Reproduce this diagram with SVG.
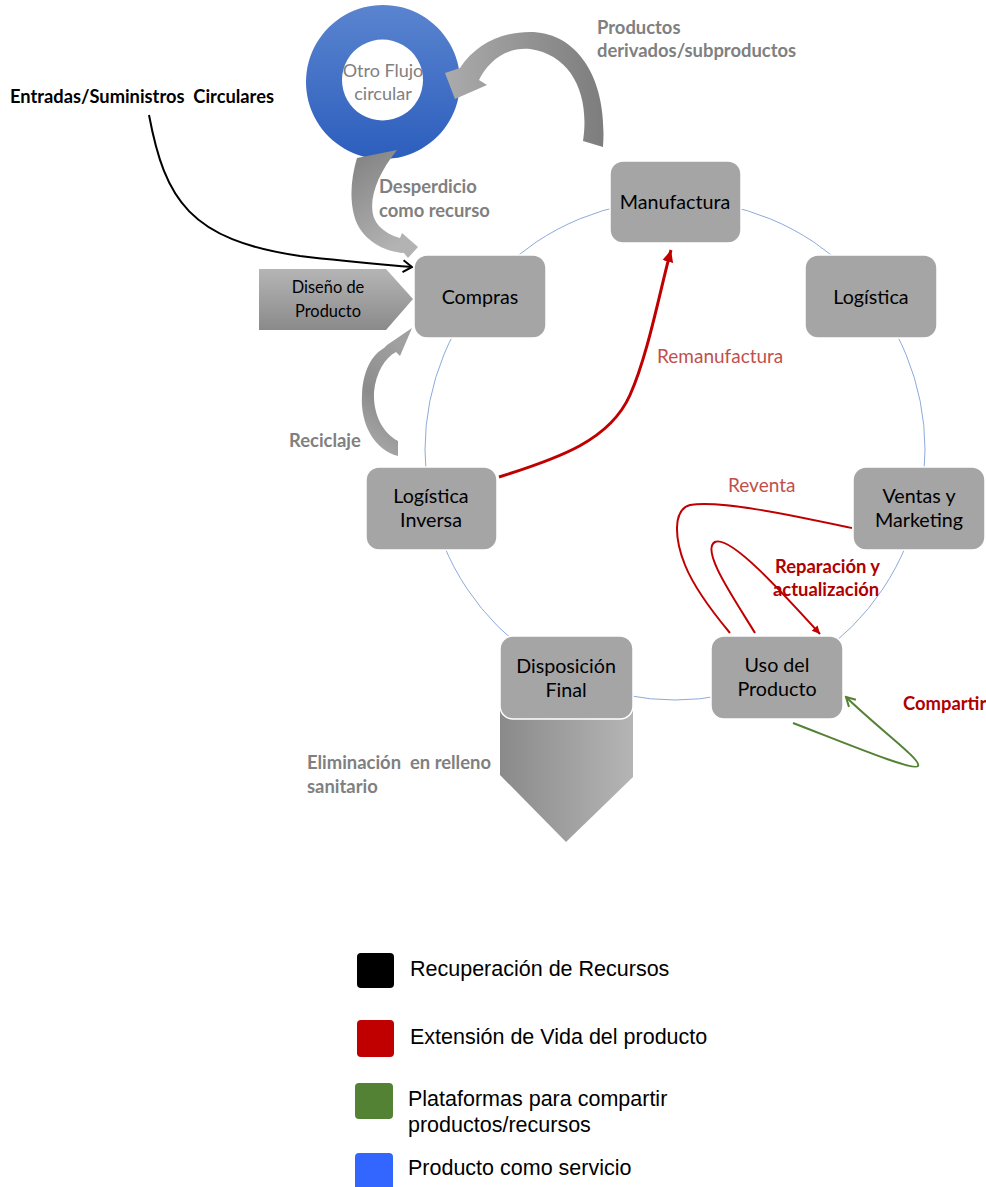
<svg xmlns="http://www.w3.org/2000/svg" width="986" height="1187" viewBox="0 0 986 1187">
<style>
.node{fill:#a5a5a5;stroke:#ffffff;stroke-width:1.5}
.nt{font-family:Lato,"Liberation Sans",sans-serif;font-size:19.7px;fill:#000;text-anchor:middle}
.gl{font-family:Lato,"Liberation Sans",sans-serif;font-size:18.4px;font-weight:bold;fill:#808080;white-space:pre}
.rl{font-family:Lato,"Liberation Sans",sans-serif;font-size:19px;fill:#c0504d}
.rb{font-family:Lato,"Liberation Sans",sans-serif;font-size:18.4px;font-weight:bold;fill:#b00000}
.lg{font-family:"Liberation Sans",Arial,sans-serif;font-size:21.5px;fill:#000}
.cyc{fill:none;stroke:#8eaadb;stroke-width:1}
</style>
<defs>
<linearGradient id="gDonut" x1="0" y1="0" x2="0" y2="1">
<stop offset="0" stop-color="#5a84cf"/><stop offset="1" stop-color="#2c5ebd"/>
</linearGradient>
<linearGradient id="gProd" x1="0" y1="0" x2="1" y2="0">
<stop offset="0" stop-color="#ababab"/><stop offset="1" stop-color="#7d7d7d"/>
</linearGradient>
<linearGradient id="gDesp" x1="0" y1="0" x2="0.4" y2="1">
<stop offset="0" stop-color="#808080"/><stop offset="1" stop-color="#b3b3b3"/>
</linearGradient>
<linearGradient id="gRec" x1="0" y1="1" x2="0.3" y2="0">
<stop offset="0" stop-color="#b0b0b0"/><stop offset="0.5" stop-color="#8c8c8c"/><stop offset="1" stop-color="#a0a0a0"/>
</linearGradient>
<linearGradient id="gDis" x1="0" y1="0" x2="0" y2="1">
<stop offset="0" stop-color="#b5b5b5"/><stop offset="1" stop-color="#8a8a8a"/>
</linearGradient>
<linearGradient id="gFun" x1="0" y1="0" x2="1" y2="0">
<stop offset="0" stop-color="#8a8a8a"/><stop offset="1" stop-color="#b5b5b5"/>
</linearGradient>
<marker id="mBlack" markerUnits="userSpaceOnUse" markerWidth="14" markerHeight="14" refX="11" refY="7" orient="auto">
<path d="M2,1 L11,7 L2,13" fill="none" stroke="#000" stroke-width="2"/>
</marker>
<marker id="mRed" markerUnits="userSpaceOnUse" markerWidth="14" markerHeight="14" refX="12" refY="7" orient="auto">
<path d="M0,1.5 L12,7 L0,12.5 Z" fill="#c00000"/>
</marker>
<marker id="mRedS" markerUnits="userSpaceOnUse" markerWidth="10" markerHeight="10" refX="8" refY="5" orient="auto">
<path d="M0,1 L8,5 L0,9 Z" fill="#c00000"/>
</marker>
<marker id="mGreen" markerUnits="userSpaceOnUse" markerWidth="12" markerHeight="12" refX="10" refY="6" orient="auto">
<path d="M1,1 L10,6 L1,11" fill="none" stroke="#548235" stroke-width="2"/>
</marker>
</defs>

<rect width="986" height="1187" fill="#ffffff"/>

<!-- cycle circle -->
<circle class="cyc" cx="675" cy="450" r="250"/>

<!-- funnel (Eliminación) -->
<g id="funnel">
<path d="M500,700 L633,700 L633,777 L566,842 L500,775 Z" fill="url(#gFun)"/>
</g>

<!-- other circular flow -->
<g id="otro-flujo">
<path d="M383,5 A77,77 0 1 1 382.99,5 Z M382.5,39.5 A40.5,40.5 0 1 0 382.51,39.5 Z" fill="url(#gDonut)" fill-rule="evenodd"/>
<text x="383" y="77" font-family="Lato,'Liberation Sans',sans-serif" font-size="18" fill="#808080" text-anchor="middle">Otro Flujo</text>
<text x="383" y="100" font-family="Lato,'Liberation Sans',sans-serif" font-size="18" fill="#808080" text-anchor="middle">circular</text>
</g>

<!-- design of product -->
<g id="diseno">
<path d="M259,269 L386,269 L413,299 L386,330 L259,330 Z" fill="url(#gDis)"/>
<text x="328" y="293" font-family="Lato,'Liberation Sans',sans-serif" font-size="16.4" fill="#000" text-anchor="middle">Diseño de</text>
<text x="328" y="317" font-family="Lato,'Liberation Sans',sans-serif" font-size="16.4" fill="#000" text-anchor="middle">Producto</text>
</g>

<g id="connectors">
<!-- block arrows -->
<path id="arr-productos" d="M583,141 C590,95 572,55 530,49 C505,47 488,62 479,80 L487,85 L455,99 L445,73 L460,68 C475,45 500,32 530,32 C575,32 608,75 603,147 Z" fill="url(#gProd)"/>
<path id="arr-desperdicio" d="M357,158 L397,150 C377,175 368,200 374,218 C379,230 392,236 400,238 L402,233 L418,247 L408,258 L404,253 C385,252 360,240 354,215 C349,195 352,175 357,158 Z" fill="url(#gDesp)"/>
<path id="arr-reciclaje" d="M398,456 C375,450 360,425 362,395 C363,370 372,355 384,348 L387,345 L412,328 L400,356 L396,352 C385,358 376,372 374,392 C373,415 383,433 398,441 Z" fill="url(#gRec)"/>
<!-- line arrows -->
<path id="arr-entradas" d="M149,115 C165,200 190,240 300,256 C350,262 390,265 412,267" fill="none" stroke="#000" stroke-width="2" marker-end="url(#mBlack)"/>
<path id="arr-remanufactura" d="M499,477 C560,458 610,440 630,395 C648,355 660,290 671,250" fill="none" stroke="#c00000" stroke-width="3" marker-end="url(#mRed)"/>
<path id="arr-reventa" d="M852,528 C790,515 720,500 690,505 C672,510 675,540 685,565 C695,590 715,615 730,633" fill="none" stroke="#c00000" stroke-width="2"/>
<path id="arr-reparacion" d="M755,633 C735,600 700,550 715,542 C730,535 780,590 820,634" fill="none" stroke="#c00000" stroke-width="2" marker-end="url(#mRedS)"/>
<path id="arr-compartir" d="M793,723 C850,745 915,772 918,766 C922,760 880,730 846,697" fill="none" stroke="#548235" stroke-width="2" marker-end="url(#mGreen)"/>
</g>

<!-- nodes -->
<g id="manufactura"><rect class="node" x="610" y="161" width="131" height="82" rx="13"/><text class="nt" x="675" y="209">Manufactura</text></g>
<g id="logistica"><rect class="node" x="805" y="255" width="132" height="83" rx="13"/><text class="nt" x="871" y="304">Logística</text></g>
<g id="compras"><rect class="node" x="414" y="255" width="132" height="83" rx="13"/><text class="nt" x="480" y="304">Compras</text></g>
<g id="logistica-inversa"><rect class="node" x="366" y="467" width="131" height="83" rx="13"/><text class="nt" x="431" y="503">Logística</text><text class="nt" x="431" y="527">Inversa</text></g>
<g id="ventas"><rect class="node" x="853" y="467" width="132" height="83" rx="13"/><text class="nt" x="919" y="503">Ventas y</text><text class="nt" x="919" y="527">Marketing</text></g>
<g id="disposicion"><rect class="node" x="500" y="636" width="133" height="83" rx="13"/><text class="nt" x="566" y="673">Disposición</text><text class="nt" x="566" y="697">Final</text></g>
<g id="uso"><rect class="node" x="711" y="636" width="132" height="83" rx="13"/><text class="nt" x="777" y="672">Uso del</text><text class="nt" x="777" y="696">Producto</text></g>

<!-- labels -->
<g id="labels">
<text x="10" y="103" font-family="Lato,'Liberation Sans',sans-serif" font-size="18.3" font-weight="bold" fill="#000" style="white-space:pre">Entradas/Suministros  Circulares</text>
<text class="gl" x="597" y="34">Productos</text>
<text class="gl" x="597" y="57">derivados/subproductos</text>
<text class="gl" x="379" y="193">Desperdicio</text>
<text class="gl" x="379" y="217">como recurso</text>
<text class="gl" x="289" y="447">Reciclaje</text>
<text class="gl" x="307" y="769">Eliminación  en relleno</text>
<text class="gl" x="307" y="793">sanitario</text>
<text class="rl" x="657" y="363">Remanufactura</text>
<text class="rl" x="728" y="492">Reventa</text>
<text class="rb" x="775" y="573">Reparación y</text>
<text class="rb" x="773" y="596">actualización</text>
<text class="rb" x="903" y="710">Compartir</text>
</g>

<!-- legend -->
<g id="legend">
<rect x="357" y="953" width="37" height="35" rx="4" fill="#000"/>
<text class="lg" x="410" y="976">Recuperación de Recursos</text>
<rect x="357" y="1020" width="37" height="37" rx="4" fill="#c00000"/>
<text class="lg" x="410" y="1044">Extensión de Vida del producto</text>
<rect x="355" y="1083" width="38" height="36" rx="4" fill="#548235"/>
<text class="lg" x="408" y="1106">Plataformas para compartir</text>
<text class="lg" x="408" y="1132">productos/recursos</text>
<rect x="355" y="1153" width="38" height="40" rx="4" fill="#3366ff"/>
<text class="lg" x="408" y="1175">Producto como servicio</text>
</g>
</svg>
